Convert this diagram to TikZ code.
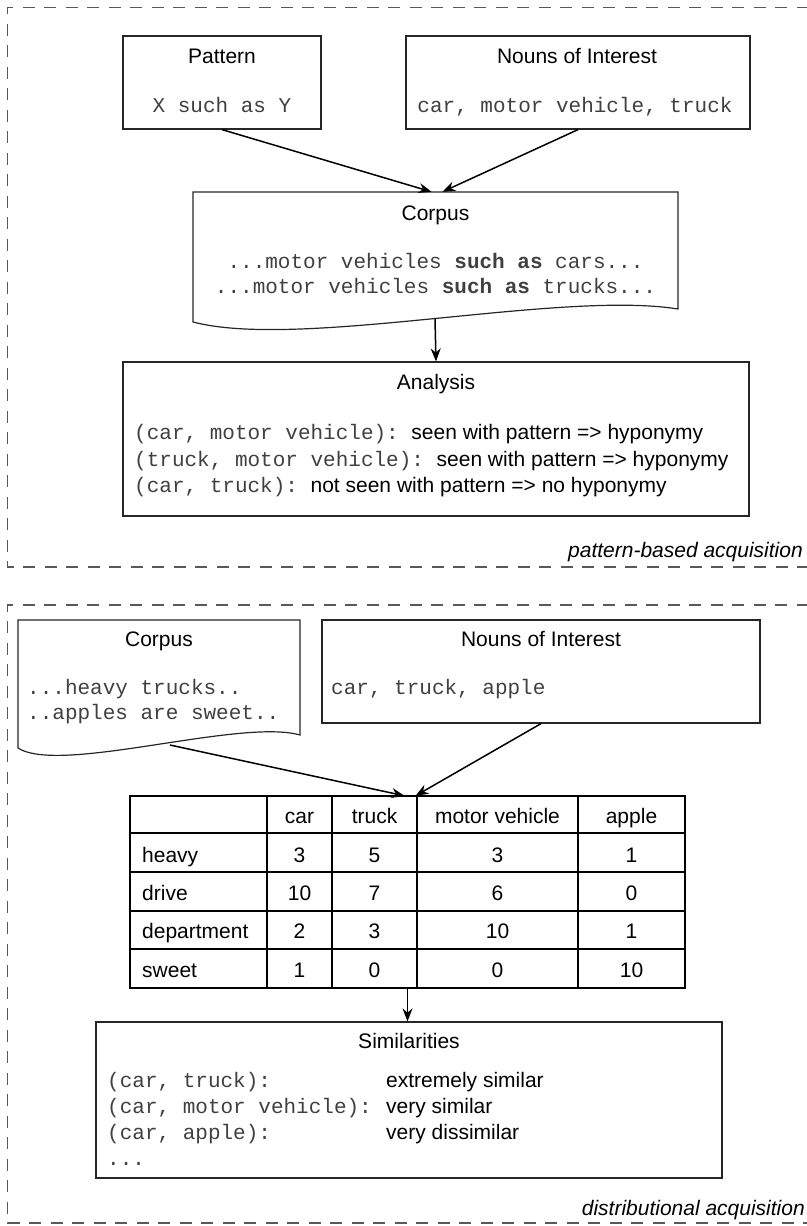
\documentclass[tikz,border=0pt]{standalone}
\usepackage{fontspec}
\setmainfont{Liberation Sans}
\setsansfont{Liberation Sans}
\setmonofont{Liberation Mono}
\usetikzlibrary{arrows.meta}
\tikzset{
  box/.style={draw=black!85, line width=1.2pt, inner sep=0pt},
  frame/.style={draw=black!65, line width=1.3pt, dash pattern=on 12pt off 9.5pt},
  sanstxt/.style={font=\fontsize{21}{25}\selectfont\sffamily, inner sep=0pt, anchor=base},
  monotxt/.style={font=\fontsize{21}{25}\selectfont\ttfamily, text=black!75, inner sep=0pt, anchor=base},
  itxt/.style={font=\fontsize{21}{25}\selectfont\sffamily\itshape, inner sep=0pt, anchor=base east},
  arr/.style={draw=black, line width=1.5pt, -{Stealth[length=13pt,width=10pt]}},
  tline/.style={draw=black, line width=2.6pt}
}
\newcommand{\mtx}[1]{{\ttfamily\color{black!75}#1}}
\begin{document}
\begin{tikzpicture}[x=1pt,y=-1pt]
\useasboundingbox (0,0) rectangle (806,1226);
% ---------- frames ----------
\draw[frame] (830,7.5) -- (7.5,7.5) -- (7.5,567) -- (830,567);
\draw[frame] (830,605) -- (7.5,605) -- (7.5,1223) -- (830,1223);
\node[itxt] (lab1) at (803,557) {pattern-based acquisition};
\node[itxt] (lab2) at (805,1215) {distributional acquisition};

% ---------- pattern-based ----------
\node[box, minimum width=198pt, minimum height=93pt] (pattern) at (222,82.5) {};
\node[sanstxt] (patternT) at (222,63) {Pattern};
\node[monotxt] (patternC) at (222,112) {X such as Y};

\node[box, minimum width=344pt, minimum height=93pt] (nouns) at (578,82.5) {};
\node[sanstxt] (nounsT) at (577,63) {Nouns of Interest};
\node[monotxt] (nounsC) at (575,112) {car, motor vehicle, truck};

\node[inner sep=0pt, minimum width=485pt, minimum height=117pt] (corpus) at (435.5,250.5) {};
\draw[box] (193,192) -- (678,192) -- (678,309)
  .. controls (560,290) and (300,350) .. (193,322) -- cycle;
\coordinate (cw) at (435,319);
\node[sanstxt] (corpusT) at (435.5,220) {Corpus};
\node[monotxt] (corpusL1) at (435.5,268) {...motor vehicles \textbf{such as} cars...};
\node[monotxt] (corpusL2) at (435.5,293) {...motor vehicles \textbf{such as} trucks...};

\node[box, minimum width=626pt, minimum height=154pt] (analysis) at (436,439) {};
\node[sanstxt] (analysisT) at (436,389) {Analysis};
\node[sanstxt, anchor=base west] (an1) at (134,439) {\mtx{(car, motor vehicle):\ }seen with pattern => hyponymy};
\node[sanstxt, anchor=base west] (an2) at (134,466) {\mtx{(truck, motor vehicle):\ }seen with pattern => hyponymy};
\node[sanstxt, anchor=base west] (an3) at (134,492) {\mtx{(car, truck):\ }not seen with pattern => no hyponymy};

\draw[arr] (pattern.south) -- ([xshift=-4pt]corpus.north);
\draw[arr] (nouns.south) -- ([xshift=7pt]corpus.north);
\draw[arr] (cw) -- (analysis.north);

% ---------- distributional ----------
\node[inner sep=0pt, minimum width=282pt, minimum height=128pt] (corpus2) at (159,684) {};
\draw[box] (18,620) -- (300,620) -- (300,735)
  .. controls (240,718) and (60,775) .. (18,748) -- cycle;
\coordinate (c2w) at (170,745);
\node[sanstxt] (corpus2T) at (159,646) {Corpus};
\node[monotxt, anchor=base west] (corpus2L1) at (27,694) {...heavy trucks..};
\node[monotxt, anchor=base west] (corpus2L2) at (27,719) {..apples are sweet..};

\node[box, minimum width=438pt, minimum height=103pt] (nouns2) at (541,671.5) {};
\node[sanstxt] (nouns2T) at (541,646) {Nouns of Interest};
\node[monotxt, anchor=base west] (nouns2C) at (331,694) {car, truck, apple};

% table
\node[inner sep=0pt, minimum width=555pt, minimum height=192pt] (tbl) at (407.5,892) {};
\draw[tline] (130,796) rectangle (685,988);
\foreach \yy in {833,872,911,949} \draw[tline] (130,\yy) -- (685,\yy);
\foreach \xx in {267,332,417,578} \draw[tline] (\xx,796) -- (\xx,988);
\node[sanstxt] (hcar) at (299.5,823) {car};
\node[sanstxt] (htruck) at (374.5,823) {truck};
\node[sanstxt] (hmv) at (497.5,823) {motor vehicle};
\node[sanstxt] (happle) at (631.5,823) {apple};
\node[sanstxt, anchor=base west] (r1) at (142,862) {heavy};
\node[sanstxt, anchor=base west] (r2) at (142,900) {drive};
\node[sanstxt, anchor=base west] (r3) at (142,938) {department};
\node[sanstxt, anchor=base west] (r4) at (142,977) {sweet};
\node[sanstxt] (c11) at (299.5,862) {3};
\node[sanstxt] (c12) at (374.5,862) {5};
\node[sanstxt] (c13) at (497.5,862) {3};
\node[sanstxt] (c14) at (631.5,862) {1};
\node[sanstxt] (c21) at (299.5,900) {10};
\node[sanstxt] (c22) at (374.5,900) {7};
\node[sanstxt] (c23) at (497.5,900) {6};
\node[sanstxt] (c24) at (631.5,900) {0};
\node[sanstxt] (c31) at (299.5,938) {2};
\node[sanstxt] (c32) at (374.5,938) {3};
\node[sanstxt] (c33) at (497.5,938) {10};
\node[sanstxt] (c34) at (631.5,938) {1};
\node[sanstxt] (c41) at (299.5,977) {1};
\node[sanstxt] (c42) at (374.5,977) {0};
\node[sanstxt] (c43) at (497.5,977) {0};
\node[sanstxt] (c44) at (631.5,977) {10};

% similarities
\node[box, minimum width=626pt, minimum height=156pt] (sim) at (409,1100) {};
\node[sanstxt] (simT) at (409,1048) {Similarities};
\node[monotxt, anchor=base west] (s1a) at (107,1087) {(car, truck):};
\node[monotxt, anchor=base west] (s2a) at (107,1113) {(car, motor vehicle):};
\node[monotxt, anchor=base west] (s3a) at (107,1139) {(car, apple):};
\node[monotxt, anchor=base west] (s4a) at (107,1165) {...};
\node[sanstxt, anchor=base west] (s1b) at (386,1087) {extremely similar};
\node[sanstxt, anchor=base west] (s2b) at (386,1113) {very similar};
\node[sanstxt, anchor=base west] (s3b) at (386,1139) {very dissimilar};

\draw[arr] (c2w) -- ([xshift=-3pt]tbl.north);
\draw[arr] (nouns2.south) -- ([xshift=8pt]tbl.north);
\draw[arr] (tbl.south) -- (tbl.south |- sim.north);
\end{tikzpicture}
\end{document}
